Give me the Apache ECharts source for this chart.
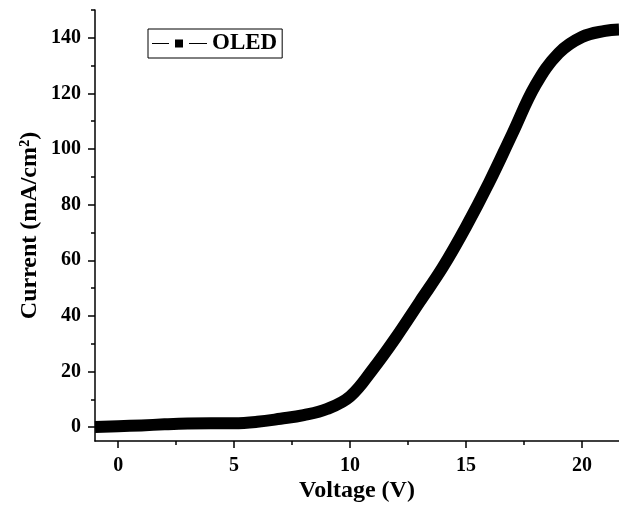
<!DOCTYPE html>
<html>
<head>
<meta charset="utf-8">
<script src="https://cdn.jsdelivr.net/npm/echarts@6/dist/echarts.min.js"></script>
<style>html,body{margin:0;padding:0;background:#fff}#c{width:619px;height:507px}</style>
</head>
<body>
<div id="c"></div>
<script>
var voltage = [-1, 0, 1, 2, 3, 4, 5, 6, 7, 8, 9, 10, 11, 12, 13, 14, 15, 16, 17, 18, 19, 20, 21, 21.6];
var current = [0, 0.3, 0.6, 1.0, 1.3, 1.4, 1.4, 1.9, 3.0, 4.3, 6.5, 11, 21, 32.5, 45, 57.5, 72, 88, 105.5, 123, 134.5, 140.3, 142.5, 143];
var xMajorTicks = [0, 5, 10, 15, 20];
var xMinorTicks = [2.5, 7.5, 12.5, 17.5];
var yMajorTicks = [0, 20, 40, 60, 80, 100, 120, 140];
var yMinorTicks = [10, 30, 50, 70, 90, 110, 130, 150];
var seriesName = 'OLED';

var font = '"Liberation Serif","Times New Roman",serif';
var chart = echarts.init(document.getElementById('c'));
var axisCommon = {
  type: 'value', splitLine: {show: false}, nameMoveOverlap: false
};
chart.setOption({
  animation: false,
  backgroundColor: '#fff',
  grid: {left: 95, right: 0, top: 10, bottom: 66, containLabel: false, outerBoundsMode: 'none'},
  legend: {
    left: 148, top: 29,
    padding: [3, 5, 3, 4],
    borderColor: '#000', borderWidth: 1,
    itemWidth: 55, itemHeight: 8,
    data: [{name: seriesName, icon: 'path://M0,3.4h17v1.2h-17z M23,0h8v8h-8z M37,3.4h18v1.2h-18z'}],
    textStyle: {fontFamily: font, fontWeight: 'bold', fontSize: 23, color: '#000'}
  },
  xAxis: [
    Object.assign({}, axisCommon, {
      min: -1, max: 21.6,
      name: 'Voltage (V)', nameLocation: 'middle', nameGap: 38,
      nameTextStyle: {fontFamily: font, fontWeight: 'bold', fontSize: 24, color: '#000'},
      axisLine: {show: true, onZero: false, lineStyle: {color: '#000', width: 1.5}},
      axisTick: {show: true, customValues: xMajorTicks, length: 7, lineStyle: {color: '#000', width: 1.5}},
      axisLabel: {customValues: xMajorTicks, margin: 15, fontFamily: font, fontWeight: 'bold', fontSize: 20, color: '#000'}
    }),
    Object.assign({}, axisCommon, {
      min: -1, max: 21.6, position: 'bottom',
      axisLine: {show: false, onZero: false},
      axisTick: {show: true, customValues: xMinorTicks, length: 4, lineStyle: {color: '#000', width: 1.5}},
      axisLabel: {show: false}
    })
  ],
  yAxis: [
    Object.assign({}, axisCommon, {
      min: -5, max: 150,
      name: 'Current (mA/cm²)', nameLocation: 'middle', nameGap: 53, nameRotate: 90,
      nameTextStyle: {fontFamily: font, fontWeight: 'bold', fontSize: 24, color: '#000'},
      axisLine: {show: true, onZero: false, lineStyle: {color: '#000', width: 1.5}},
      axisTick: {show: true, customValues: yMajorTicks, length: 7, lineStyle: {color: '#000', width: 1.5}},
      axisLabel: {customValues: yMajorTicks, margin: 14, fontFamily: font, fontWeight: 'bold', fontSize: 20, color: '#000'}
    }),
    Object.assign({}, axisCommon, {
      min: -5, max: 150, position: 'left',
      axisLine: {show: false, onZero: false},
      axisTick: {show: true, customValues: yMinorTicks, length: 4, lineStyle: {color: '#000', width: 1.5}},
      axisLabel: {show: false}
    })
  ],
  series: [{
    name: seriesName,
    type: 'line',
    smooth: 0.4,
    symbol: 'none',
    clip: true,
    lineStyle: {color: '#000', width: 12, cap: 'butt', join: 'round'},
    itemStyle: {color: '#000'},
    data: voltage.map(function (v, i) { return [v, current[i]]; })
  }]
});
</script>
</body>
</html>
